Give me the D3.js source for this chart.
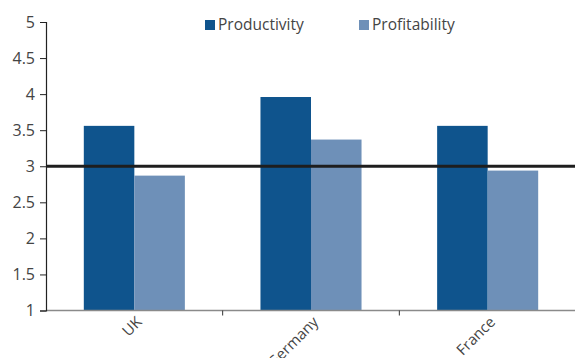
<!DOCTYPE html>
<html>
<head>
<meta charset="utf-8">
<script src="https://cdn.jsdelivr.net/npm/d3@7"></script>
<style>
  html, body { margin: 0; padding: 0; background: #fff; }
  svg { display: block; font-family: "Open Sans", sans-serif; }
</style>
</head>
<body>
<svg id="chart" width="575" height="358"></svg>
<script>
const categories = ["UK", "Germany", "France"];
const seriesNames = ["Productivity", "Profitability"];
const productivity = [3.56, 3.96, 3.56];
const profitability = [2.87, 3.37, 2.94];
const yTicks = [1, 1.5, 2, 2.5, 3, 3.5, 4, 4.5, 5];
const referenceLevel = 3;

const colors = ["#0f548d", "#6e90b8"];
const svg = d3.select("#chart");
const margin = { left: 46, right: 0, top: 22, bottom: 47.5 };
const W = 575, H = 358;

const x0 = d3.scaleBand()
  .domain(categories)
  .range([margin.left, 576])
  .paddingInner(0.428)
  .paddingOuter(0.214);
const x1 = d3.scaleBand().domain(seriesNames).range([0, x0.bandwidth()]);
const y = d3.scaleLinear().domain([1, 5]).range([H - margin.bottom, margin.top]);

const rows = categories.map((c, i) => ({ cat: c, vals: [productivity[i], profitability[i]] }));

// bars
const g = svg.append("g");
rows.forEach(r => {
  r.vals.forEach((v, j) => {
    g.append("rect")
      .attr("x", x0(r.cat) + x1(seriesNames[j]))
      .attr("y", y(v))
      .attr("width", x1.bandwidth())
      .attr("height", y(1) - y(v))
      .attr("fill", colors[j]);
  });
});

// x axis line and category boundary ticks
const step = x0.step();
svg.append("line")
  .attr("x1", margin.left).attr("x2", W)
  .attr("y1", y(1)).attr("y2", y(1))
  .attr("stroke", "#8a8a8a").attr("stroke-width", 1.5);
d3.range(1, categories.length).forEach(k => {
  const xb = margin.left + k * step;
  svg.append("line")
    .attr("x1", xb).attr("x2", xb)
    .attr("y1", y(1)).attr("y2", y(1) + 5)
    .attr("stroke", "#333").attr("stroke-width", 1);
});

// category labels
categories.forEach(c => {
  const cx = x0(c) + x0.bandwidth() / 2 + 1;
  svg.append("text")
    .attr("transform", `translate(${cx},${y(1) + 5}) rotate(-45)`)
    .attr("text-anchor", "end")
    .attr("dy", "0.7em")
    .attr("font-size", 15)
    .attr("fill", "#444")
    .text(c);
});

// y axis
const yAxis = d3.axisLeft(y).tickValues(yTicks).tickSize(6).tickPadding(5)
  .tickFormat(d => String(d));
const ya = svg.append("g").attr("transform", `translate(${margin.left},0)`).call(yAxis);
ya.select(".domain").attr("stroke", "#222").attr("stroke-width", 1.2);
ya.selectAll(".tick line").attr("stroke", "#222");
ya.selectAll(".tick text").attr("font-size", 16).attr("fill", "#444")
  .attr("font-family", "Open Sans, sans-serif");

// reference line at 3
svg.append("line")
  .attr("x1", margin.left).attr("x2", W)
  .attr("y1", y(referenceLevel)).attr("y2", y(referenceLevel))
  .attr("stroke", "#1e1e1e").attr("stroke-width", 3);

// legend
const legendX = [205, 359];
seriesNames.forEach((s, j) => {
  svg.append("rect")
    .attr("x", legendX[j]).attr("y", 20)
    .attr("width", 10).attr("height", 10)
    .attr("fill", colors[j]);
  svg.append("text")
    .attr("x", legendX[j] + 13).attr("y", 30)
    .attr("font-size", 15.5)
    .attr("fill", "#444")
    .text(s);
});
</script>
</body>
</html>
